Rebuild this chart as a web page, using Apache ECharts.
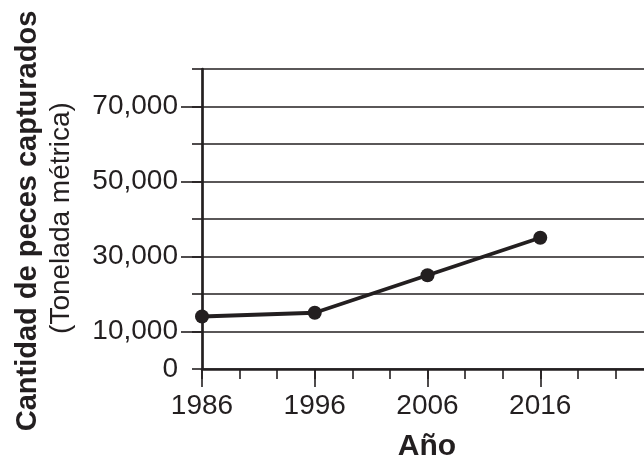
<!DOCTYPE html>
<html>
<head>
<meta charset="utf-8">
<script src="https://cdn.jsdelivr.net/npm/echarts@6/dist/echarts.min.js"></script>
<style>
html,body{margin:0;padding:0;background:#fff;}
#chart{width:644px;height:464px;}
</style>
</head>
<body>
<div id="chart"></div>
<script>
// Data
const years = [1986, 1996, 2006, 2016];
const catches = [14000, 15000, 25000, 35000];
const xLabelYears = [1986, 1996, 2006, 2016];
const yLabelValues = [0, 10000, 30000, 50000, 70000];
const yLongTickValues = [10000, 30000, 50000, 70000];
const xTitle = 'Año';
const yTitle = 'Cantidad de peces capturados';
const ySubTitle = '(Tonelada métrica)';

const xMin = 1986, xMax = 2025.2;
const minorStep = 10 / 3;
const xMinorTicks = [];
for (let k = 0; xMin + k * minorStep <= xMax; k++) xMinorTicks.push(xMin + k * minorStep);

const ink = '#231f20';
const font = '"Liberation Sans", Arial, sans-serif';

const chart = echarts.init(document.getElementById('chart'), null, {renderer: 'canvas'});
chart.setOption({
  animation: false,
  backgroundColor: '#ffffff',
  grid: {left: 202, right: 0, top: 69, bottom: 95, containLabel: false},
  xAxis: [{
    type: 'value', min: xMin, max: xMax, position: 'bottom',
    axisLine: {show: true, lineStyle: {color: ink, width: 2.7}},
    axisTick: {show: true, customValues: xLabelYears, length: 18, lineStyle: {color: ink, width: 1.6}},
    axisLabel: {show: true, customValues: xLabelYears, margin: 23, fontSize: 28, fontFamily: font, color: ink,
      formatter: v => String(Math.round(v))},
    splitLine: {show: false}
  }, {
    type: 'value', min: xMin, max: xMax, position: 'bottom',
    axisLine: {show: false},
    axisTick: {show: true, customValues: xMinorTicks, length: 10, lineStyle: {color: ink, width: 1.6}},
    axisLabel: {show: false},
    splitLine: {show: false}
  }],
  yAxis: [{
    type: 'value', min: 0, max: 80000, interval: 10000, position: 'left',
    axisLine: {show: true, lineStyle: {color: ink, width: 2.7}},
    axisTick: {show: true, length: 10, lineStyle: {color: ink, width: 1.6}},
    axisLabel: {show: false},
    splitLine: {show: true, lineStyle: {color: ink, width: 1.6}}
  }, {
    type: 'value', min: 0, max: 80000, position: 'left',
    axisLine: {show: false},
    axisTick: {show: true, customValues: yLongTickValues, length: 21, lineStyle: {color: ink, width: 1.6}},
    axisLabel: {show: true, customValues: yLabelValues, margin: 24, fontSize: 28, fontFamily: font, color: ink,
      formatter: v => Number(v).toLocaleString('en-US')},
    splitLine: {show: false}
  }],
  series: [{
    type: 'line',
    xAxisIndex: 0, yAxisIndex: 0,
    data: years.map((y, i) => [y, catches[i]]),
    symbol: 'circle', symbolSize: 14,
    itemStyle: {color: ink},
    lineStyle: {color: ink, width: 3.8},
    z: 5
  }],
  graphic: [{
    type: 'text', x: 28, y: 221, rotation: Math.PI / 2,
    style: {text: yTitle, font: 'bold 29px ' + font, fill: ink, textAlign: 'center', textVerticalAlign: 'middle'}
  }, {
    type: 'text', x: 61, y: 218, rotation: Math.PI / 2,
    style: {text: ySubTitle, font: '28px ' + font, fill: ink, textAlign: 'center', textVerticalAlign: 'middle'}
  }, {
    type: 'text', x: 427, y: 447,
    style: {text: xTitle, font: 'bold 30px ' + font, fill: ink, textAlign: 'center', textVerticalAlign: 'middle'}
  }]
});
</script>
</body>
</html>
